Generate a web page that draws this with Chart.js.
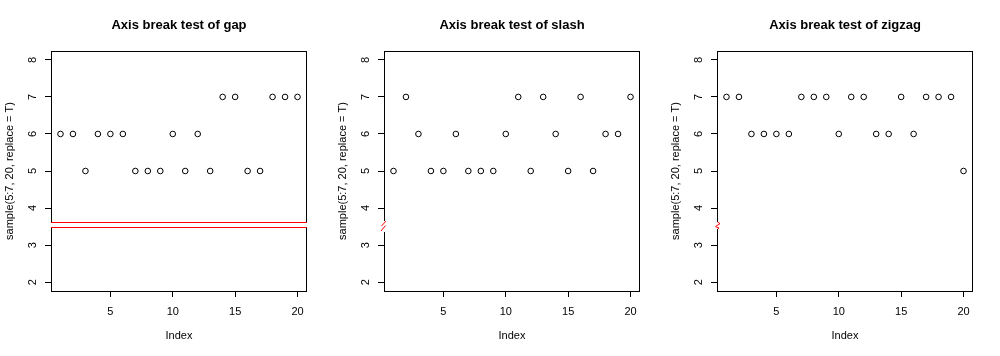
<!DOCTYPE html>
<html>
<head>
<meta charset="utf-8">
<script src="https://cdn.jsdelivr.net/npm/chart.js@4.4.0/dist/chart.umd.min.js"></script>
<style>
  html, body { margin: 0; padding: 0; background: #ffffff; }
  #wrap { position: relative; width: 1000px; height: 356px; overflow: hidden; background: #ffffff; }
  canvas { position: absolute; top: 0; }
</style>
</head>
<body>
<div id="wrap">
  <canvas id="c0" width="333" height="356" style="left:0px"></canvas>
  <canvas id="c1" width="333" height="356" style="left:333px"></canvas>
  <canvas id="c2" width="333" height="356" style="left:666px"></canvas>
</div>
<script>
// ---- data ----
const xIndex = [1, 2, 3, 4, 5, 6, 7, 8, 9, 10, 11, 12, 13, 14, 15, 16, 17, 18, 19, 20];
const gapValues    = [6, 6, 5, 6, 6, 6, 5, 5, 5, 6, 5, 6, 5, 7, 7, 5, 5, 7, 7, 7];
const slashValues  = [5, 7, 6, 5, 5, 6, 5, 5, 5, 6, 7, 5, 7, 6, 5, 7, 5, 6, 6, 7];
const zigzagValues = [7, 7, 6, 6, 6, 6, 7, 7, 7, 6, 7, 7, 6, 6, 7, 6, 7, 7, 7, 5];
const xTickValues = [5, 10, 15, 20];
const yTickValues = [2, 3, 4, 5, 6, 7, 8];
const xRange = [0.24, 20.76];
const yRange = [1.76, 8.24];
const panelTitles = ["Axis break test of gap", "Axis break test of slash", "Axis break test of zigzag"];
const breakStyles = ["gap", "slash", "zigzag"];
const gapRange = [3.48, 3.62];
const breakAt = 3.5;
const xLabel = "Index";
const yLabel = "sample(5:7, 20, replace = T)";

const FONT = "'Liberation Sans', Arial, Helvetica, sans-serif";
const seriesList = [gapValues, slashValues, zigzagValues];

const decorPlugin = {
  id: 'boxAndBreak',
  afterDatasetsDraw(chart, args, opts) {
    const ctx = chart.ctx;
    const a = chart.chartArea;
    const ys = chart.scales.y;
    const L = Math.round(a.left) + 0.5;
    const R = Math.round(a.right) - 0.5;
    const T = Math.round(a.top) + 0.5;
    const B = Math.round(a.bottom) + 0.5;
    const style = opts.style;
    ctx.save();
    ctx.lineWidth = 1;
    ctx.strokeStyle = '#000000';
    ctx.lineCap = 'butt';
    const seg = (x1, y1, x2, y2) => { ctx.beginPath(); ctx.moveTo(x1, y1); ctx.lineTo(x2, y2); ctx.stroke(); };
    // top and bottom
    seg(L - 0.5, T, R + 0.5, T);
    seg(L - 0.5, B, R + 0.5, B);
    if (style === 'gap') {
      const yHi = Math.floor(ys.getPixelForValue(gapRange[1])) + 0.5;
      const yLo = Math.floor(ys.getPixelForValue(gapRange[0])) + 0.5;
      seg(L, T, L, yHi); seg(L, yLo, L, B);
      seg(R, T, R, yHi); seg(R, yLo, R, B);
      ctx.strokeStyle = '#ff0000';
      seg(L - 0.5, yHi, R + 0.5, yHi);
      seg(L - 0.5, yLo, R + 0.5, yLo);
    } else {
      const yc = ys.getPixelForValue(breakAt);
      seg(R, T, R, B);
      if (style === 'slash') {
        seg(L, T, L, yc - 5.5); seg(L, yc + 5.5, L, B);
        ctx.strokeStyle = '#ff0000';
        seg(L + 1.5, yc - 5.5, L - 3, yc - 0.5);
        seg(L + 1, yc - 1, L - 3.5, yc + 4.5);
      } else {
        seg(L, T, L, yc - 4.5); seg(L, yc + 2.5, L, B);
        ctx.strokeStyle = '#ff0000';
        ctx.beginPath();
        ctx.moveTo(L, yc - 4.5);
        ctx.lineTo(L + 2.5, yc - 3);
        ctx.lineTo(L - 2, yc);
        ctx.lineTo(L + 1.5, yc + 1.5);
        ctx.lineTo(L, yc + 2.5);
        ctx.stroke();
      }
    }
    ctx.restore();
  }
};

function makeChart(i) {
  const pts = xIndex.map((x, k) => ({ x: x, y: seriesList[i][k] }));
  return new Chart(document.getElementById('c' + i), {
    type: 'scatter',
    data: {
      datasets: [{
        data: pts,
        pointStyle: 'circle',
        pointRadius: 2.8,
        pointBorderWidth: 1,
        pointBorderColor: '#000000',
        pointBackgroundColor: 'rgba(0,0,0,0)',
        showLine: false
      }]
    },
    options: {
      responsive: false,
      devicePixelRatio: 1,
      animation: false,
      events: [],
      layout: { padding: { left: 0, right: 26, top: 0, bottom: 0 } },
      plugins: {
        legend: { display: false },
        tooltip: { enabled: false },
        title: {
          display: true,
          text: panelTitles[i],
          fullSize: false,
          color: '#000000',
          font: { family: FONT, size: 13, weight: 'bold', lineHeight: 1.2 },
          padding: { top: 18, bottom: 17.4 }
        },
        boxAndBreak: { style: breakStyles[i] }
      },
      scales: {
        x: {
          type: 'linear',
          min: xRange[0],
          max: xRange[1],
          afterBuildTicks: (s) => { s.ticks = xTickValues.map(v => ({ value: v })); },
          afterFit: (s) => { s.height = 65; },
          border: { display: false },
          grid: { drawOnChartArea: false, drawTicks: true, tickLength: 6, color: '#000000', lineWidth: 1 },
          ticks: {
            autoSkip: false, minRotation: 0, maxRotation: 0, padding: 8,
            color: '#000000', font: { family: FONT, size: 11 }
          },
          title: {
            display: true, text: xLabel, color: '#000000',
            font: { family: FONT, size: 11, lineHeight: 1.2 },
            padding: { top: 13.4, bottom: 13.4 }
          }
        },
        y: {
          type: 'linear',
          min: yRange[0],
          max: yRange[1],
          afterBuildTicks: (s) => { s.ticks = yTickValues.map(v => ({ value: v })); },
          afterFit: (s) => { s.width = 51; },
          border: { display: false },
          grid: { drawOnChartArea: false, drawTicks: true, tickLength: 6, color: '#000000', lineWidth: 1 },
          ticks: {
            autoSkip: false, minRotation: 90, maxRotation: 90, crossAlign: 'center', padding: 9,
            color: '#000000', font: { family: FONT, size: 11 }
          },
          title: {
            display: true, text: yLabel, color: '#000000',
            font: { family: FONT, size: 11, lineHeight: 1.2 },
            padding: { top: 3.4, bottom: 3.4 }
          }
        }
      }
    },
    plugins: [decorPlugin]
  });
}

[0, 1, 2].forEach(makeChart);
</script>
</body>
</html>
